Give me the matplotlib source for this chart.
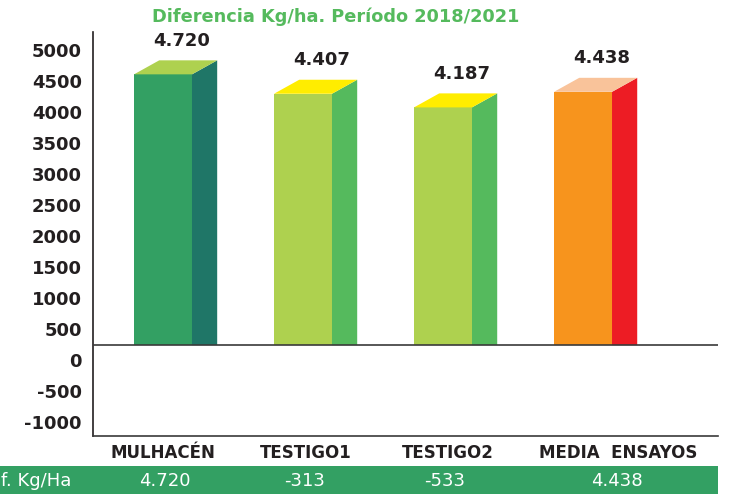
import matplotlib.pyplot as plt
from matplotlib.patches import Polygon, Rectangle

categorias = ["MULHACÉN", "TESTIGO1", "TESTIGO2", "MEDIA  ENSAYOS"]
kg_ha = [4720, 4407, 4187, 4438]
etiquetas = ["4.720", "4.407", "4.187", "4.438"]
diferencia = ["4.720", "-313", "-533", "4.438"]
yticks = [5000, 4500, 4000, 3500, 3000, 2500, 2000, 1500, 1000, 500, 0, -500, -1000]

# colores: frente, lateral, tapa
colores = [("#33a063", "#1f7667", "#aed14f"),
           ("#aed14f", "#55ba5d", "#ffed00"),
           ("#aed14f", "#55ba5d", "#ffed00"),
           ("#f7941d", "#ed1c24", "#f9c39a")]

plt.rcParams['font.family'] = ['DejaVu Sans']
W, H = 732, 494
fig = plt.figure(figsize=(W / 100, H / 100), dpi=100)
ax = fig.add_axes([93 / W, 1 - 436 / H, (718 - 93) / W, (436 - 32) / H])

ax.set_xlim(-0.5, 3.964)
ax.set_ylim(-1226, 5290)
base = 240
ancho = 0.414
dx, dy = 0.18, 226

for i, v in enumerate(kg_ha):
    fr, lat, tapa = colores[i]
    x0, x1 = i - ancho / 2, i + ancho / 2
    y_fr = v - dy / 2   # el valor queda a media profundidad de la tapa
    ax.add_patch(Rectangle((x0, base), ancho, y_fr - base, color=fr, lw=0, zorder=2))
    ax.add_patch(Polygon([(x1, base), (x1 + dx, base), (x1 + dx, y_fr + dy), (x1, y_fr)],
                         closed=True, color=lat, lw=0, zorder=2))
    ax.add_patch(Polygon([(x0, y_fr), (x1, y_fr), (x1 + dx, y_fr + dy), (x0 + dx, y_fr + dy)],
                         closed=True, color=tapa, lw=0, zorder=2))
    ax.text(i + 0.13, y_fr + dy + 170, etiquetas[i], ha="center", va="bottom",
            fontsize=13, fontweight="bold", color="#231f20")

ax.axhline(base, color="#3a3a3a", lw=1.2, zorder=3)
ax.set_yticks(yticks)
ax.set_yticklabels([str(t) for t in yticks], fontsize=13, fontweight="bold", color="#231f20")
ax.tick_params(axis="y", length=0, pad=8)
ax.set_xticks([])
for s in ["top", "right"]:
    ax.spines[s].set_visible(False)
ax.spines["left"].set_color("#231f20")
ax.spines["bottom"].set_color("#3a3a3a")
ax.spines["left"].set_linewidth(1.2)
ax.spines["bottom"].set_linewidth(1.2)

pos_cat = [163, 306, 448, 618]
for p, c in zip(pos_cat, categorias):
    fig.text(p / W, 1 - 453 / H, c, ha="center", va="center", fontsize=12,
             fontweight="bold", color="#231f20")

# banda verde inferior
fig.patches.append(Rectangle((0, 0), 718 / W, 28 / H, transform=fig.transFigure,
                             color="#33a063", lw=0))
fig.text(71 / W, 1 - 481 / H, "Dif. Kg/Ha", ha="right", va="center", fontsize=13, color="white")
for p, d in zip([165, 305, 445, 617], diferencia):
    fig.text(p / W, 1 - 481 / H, d, ha="center", va="center", fontsize=13, color="white")

fig.text(336 / W, 1 - 17 / H, "Diferencia Kg/ha. Período 2018/2021", ha="center", va="center",
         fontsize=12.8, fontweight="bold", color="#55ba5d")

fig.savefig("out.png", dpi=100)
